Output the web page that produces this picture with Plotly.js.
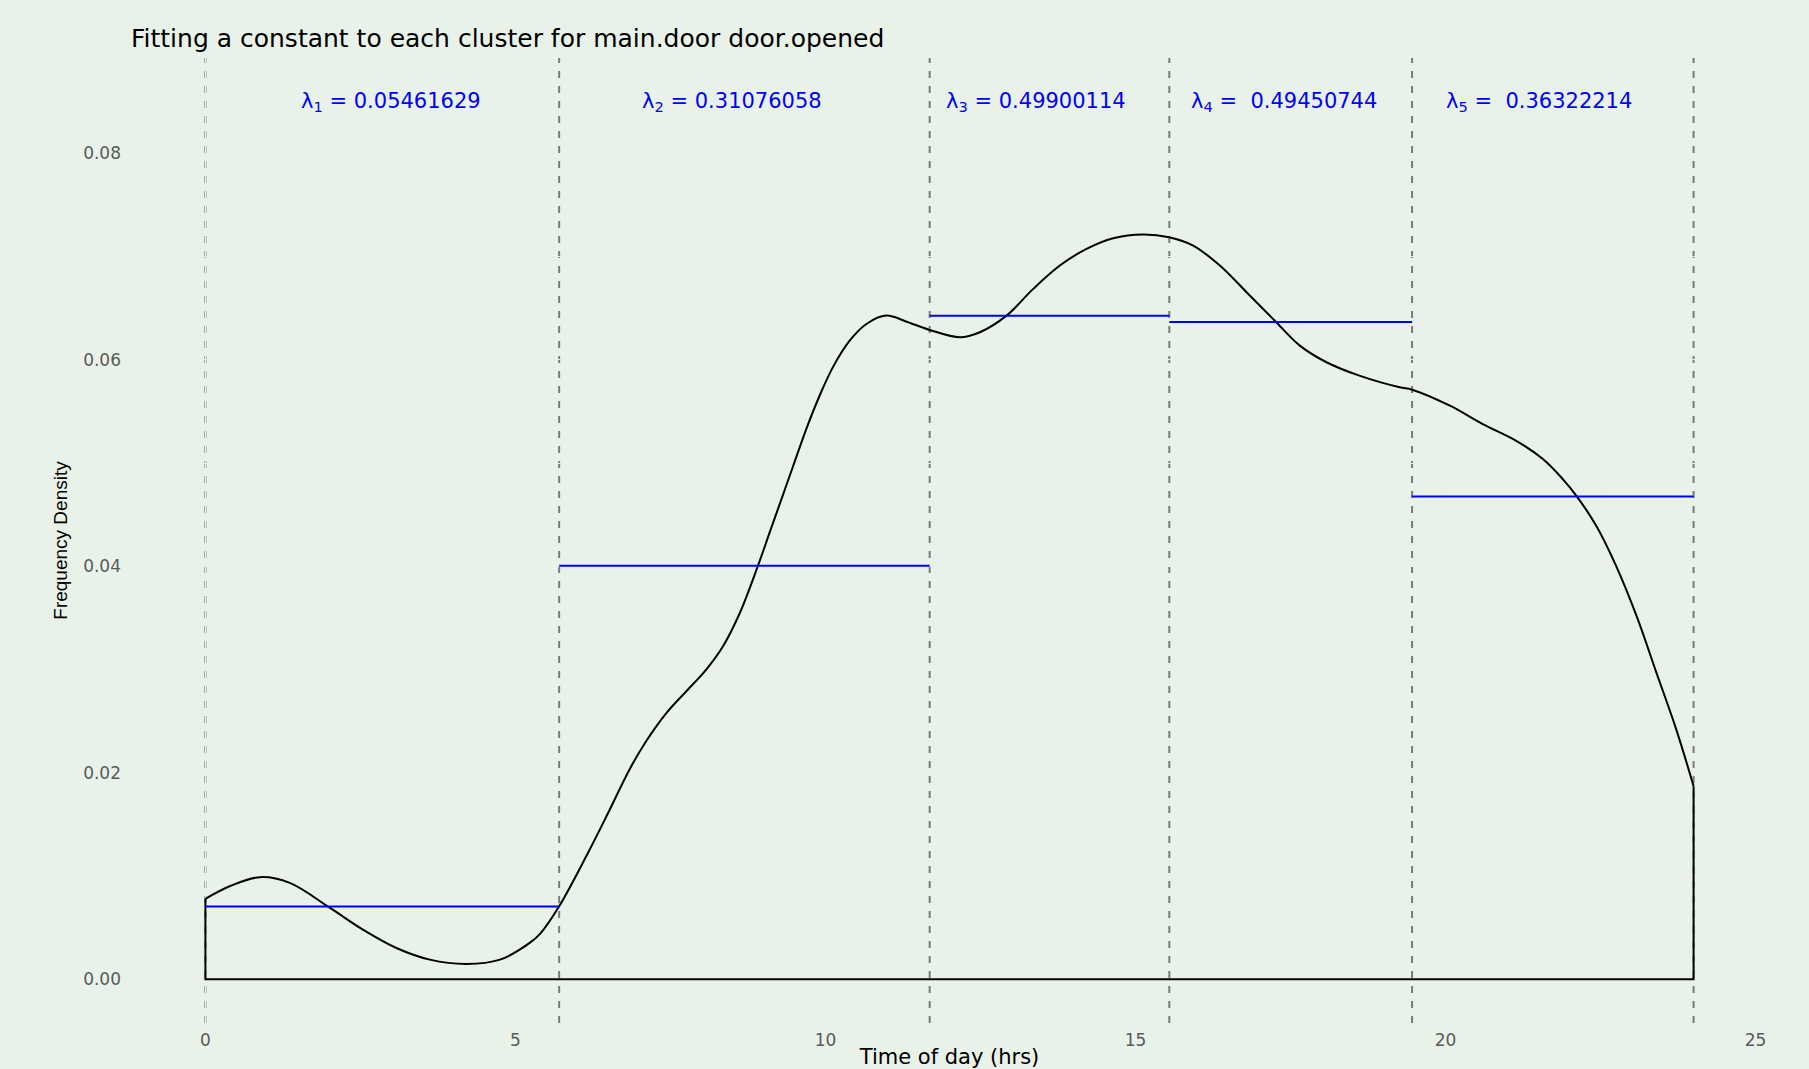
<!DOCTYPE html>
<html>
<head>
<meta charset="utf-8">
<script src="https://cdn.plot.ly/plotly-3.0.1.min.js"></script>
<style>html,body{margin:0;padding:0;background:#E9F2E9;}#chart{width:1809px;height:1069px;}</style>
</head>
<body>
<div id="chart"></div>
<script>
// Density curve (Time of day in hours, frequency density)
const curveX = [0, 0.39, 0.88, 1.36, 2.01, 2.54, 3.08, 3.62, 4.21, 4.75, 5.23, 5.40, 5.705, 6.15, 6.47, 6.84, 7.11, 7.44, 7.76, 8.08, 8.35, 8.62, 8.91, 9.10, 9.29, 9.48, 9.69, 9.91, 10.12, 10.39, 10.66, 10.98, 11.31, 11.68, 12.17, 12.49, 12.92, 13.35, 13.78, 14.21, 14.64, 15.12, 15.54, 15.93, 16.36, 16.79, 17.27, 17.65, 18.08, 18.61, 19.26, 19.46, 20.07, 20.60, 21.14, 21.57, 21.89, 22.11, 22.43, 22.75, 23.08, 23.40, 23.72, 24.0];
const curveY = [0.00778, 0.0090, 0.00988, 0.00933, 0.0069, 0.0048, 0.00302, 0.00189, 0.00147, 0.00189, 0.00351, 0.00441, 0.00706, 0.0120, 0.0158, 0.02032, 0.02307, 0.02582, 0.02792, 0.03002, 0.03228, 0.0355, 0.04004, 0.04328, 0.04651, 0.04974, 0.0533, 0.0566, 0.0593, 0.06186, 0.06348, 0.06429, 0.0637, 0.0629, 0.06219, 0.06268, 0.06429, 0.06688, 0.06914, 0.07076, 0.07179, 0.07215, 0.07189, 0.07108, 0.06914, 0.06656, 0.06365, 0.06138, 0.05977, 0.05847, 0.05734, 0.05711, 0.05556, 0.05378, 0.05216, 0.05039, 0.04845, 0.04683, 0.04392, 0.04004, 0.03519, 0.0297, 0.0242, 0.0187];

// Cluster boundaries (hrs) and fitted constant levels
const clusterBounds = [0, 5.705, 11.68, 15.545, 19.46, 24.0];
const clusterLevels = [0.00703, 0.04005, 0.06427, 0.06368, 0.04677];

// Lambda labels
const lambdaNames = ['λ<sub>1</sub> = ', 'λ<sub>2</sub> = ', 'λ<sub>3</sub> = ', 'λ<sub>4</sub> = \u00a0', 'λ<sub>5</sub> = \u00a0'];
const lambdaValues = ['0.05461629', '0.31076058', '0.49900114', '0.49450744', '0.36322214'];
const lambdaX = [3.0, 8.5, 13.4, 17.4, 21.5];
const lambdaY = 0.085;

const xTicks = [0, 5, 10, 15, 20, 25];
const yTicks = [0, 0.02, 0.04, 0.06, 0.08];
const yTickLabels = ['0.00', '0.02', '0.04', '0.06', '0.08'];

const traces = [];
const n = curveX.length;
// outline of density polygon (baseline and end verticals)
traces.push({
  x: [curveX[0], curveX[0], curveX[n-1], curveX[n-1]],
  y: [curveY[0], 0, 0, curveY[n-1]],
  mode: 'lines', line: {color: '#000000', width: 2}, hoverinfo: 'skip', showlegend: false
});
traces.push({
  x: curveX, y: curveY, mode: 'lines',
  line: {color: '#000000', width: 2, shape: 'spline', smoothing: 1},
  showlegend: false
});
for (let i = 0; i < clusterLevels.length; i++) {
  traces.push({
    x: [clusterBounds[i], clusterBounds[i+1]],
    y: [clusterLevels[i], clusterLevels[i]],
    mode: 'lines', line: {color: '#0000FF', width: 2}, showlegend: false
  });
}

const shapes = clusterBounds.map(b => ({
  type: 'line', xref: 'x', yref: 'paper', x0: b, x1: b, y0: 0, y1: 1,
  line: {color: '#7A7A7A', width: 2, dash: '7px,8px'}, layer: 'between'
}));

const sans = 'DejaVu Sans, Verdana, sans-serif';
const annotations = lambdaValues.map((v, i) => ({
  x: lambdaX[i], y: lambdaY, xref: 'x', yref: 'y',
  text: lambdaNames[i] + v,
  showarrow: false, xanchor: 'center', yanchor: 'middle',
  font: {family: sans, size: 21, color: '#0000FF'}
}));

const gridCol = '#EDEDEA';
const layout = {
  width: 1809, height: 1069,
  paper_bgcolor: '#E9F2E9', plot_bgcolor: '#E9F2E9',
  margin: {l: 131, r: 41, t: 58, b: 46},
  title: {
    text: 'Fitting a constant to each cluster for main.door door.opened',
    xref: 'container', x: 131 / 1809, xanchor: 'left',
    yref: 'container', y: 1 - 38 / 1069, yanchor: 'middle',
    font: {family: sans, size: 25, color: '#000000'}
  },
  xaxis: {
    range: [-1.2, 25.2], tickmode: 'array', tickvals: xTicks, ticktext: xTicks.map(String),
    showgrid: true, gridcolor: gridCol, gridwidth: 1.2, zeroline: false, showline: false,
    ticks: '', ticklabelstandoff: 5, tickfont: {family: sans, size: 17, color: '#5A5A5A'},
    minor: {dtick: 2.5, tick0: 0, showgrid: true, gridcolor: gridCol, gridwidth: 1},
    title: {text: 'Time of day (hrs)', standoff: 2, font: {family: sans, size: 21, color: '#000000'}},
    automargin: false, fixedrange: true
  },
  yaxis: {
    range: [-0.00425, 0.08925], tickmode: 'array', tickvals: yTicks, ticktext: yTickLabels,
    showgrid: true, gridcolor: gridCol, gridwidth: 1.2, zeroline: false, showline: false,
    ticks: '', ticklabelstandoff: 9, tickfont: {family: sans, size: 17, color: '#5A5A5A'},
    minor: {dtick: 0.01, tick0: 0, showgrid: true, gridcolor: gridCol, gridwidth: 1},
    title: {text: 'Frequency Density', standoff: 10, font: {family: 'Liberation Sans, Arial, sans-serif', size: 19, color: '#000000'}},
    automargin: false, fixedrange: true
  },
  shapes: shapes,
  annotations: annotations,
  showlegend: false
};

Plotly.newPlot('chart', traces, layout, {displayModeBar: false, staticPlot: true});
</script>
</body>
</html>
